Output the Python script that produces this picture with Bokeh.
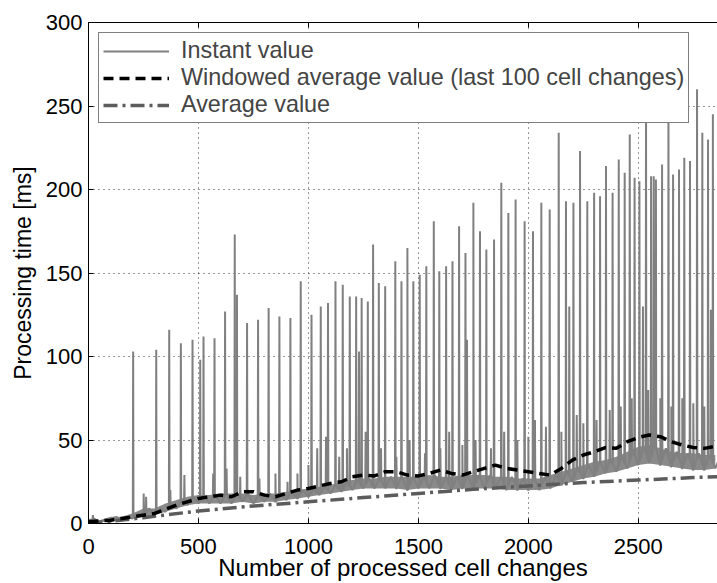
import numpy as np
from bokeh.plotting import figure
from bokeh.models import Range1d, FixedTicker, LinearAxis, Legend, LegendItem
from bokeh.embed import file_html
from bokeh.resources import INLINE

# ---------------- data ----------------
x_ticks = [0, 500, 1000, 1500, 2000, 2500]
y_ticks = [0, 50, 100, 150, 200, 250, 300]

# instant value: dense noisy band, low / high readings every 50 cell changes
band_step = 50
band_lo = [1, 1, 1, 2, 3, 4, 5, 7, 9, 11, 12, 12, 12, 12, 13, 12, 13, 13, 14, 15,
           16, 17, 18, 19, 20, 21, 21, 21, 21, 20, 21, 21, 21, 20, 21, 21, 21, 21, 20, 20,
           20, 20, 21, 23, 25, 27, 28, 30, 31, 33, 35, 36, 35, 34, 33, 32, 32, 33]
band_hi = [3, 2, 4, 4, 6, 9, 9, 12, 14, 16, 17, 17, 18, 18, 18, 17, 18, 18, 19, 20,
           21, 22, 23, 25, 26, 27, 27, 28, 28, 28, 28, 29, 28, 28, 29, 29, 29, 28, 28, 27,
           27, 27, 29, 31, 33, 35, 37, 38, 40, 43, 46, 47, 45, 43, 42, 42, 41, 41]

# instant value: tall spikes
spike_x = [203, 308, 367, 420, 473, 508, 523, 573, 621, 665, 675, 721, 771, 819, 868,
           918, 965, 1014, 1056, 1089, 1123, 1156, 1188, 1217, 1230, 1242, 1270, 1294,
           1320, 1349, 1395, 1423, 1450, 1477, 1506, 1536, 1570, 1595, 1626, 1655, 1685,
           1714, 1721, 1750, 1780, 1809, 1844, 1877, 1909, 1942, 1983, 2021, 2059, 2097,
           2138, 2171, 2186, 2205, 2235, 2268, 2299, 2326, 2353, 2383, 2411, 2438, 2461,
           2483, 2505, 2521, 2535, 2558, 2570, 2580, 2608, 2637, 2658, 2685, 2709, 2735,
           2767, 2791, 2817, 2830, 2839]
spike_y = [103, 104, 116, 108, 110, 98, 112, 111, 127, 173, 137, 120, 122, 129, 124,
           123, 145, 125, 130, 132, 145, 143, 136, 136, 103, 135, 133, 167,
           144, 142, 157, 145, 165, 145, 149, 154, 181, 151, 154, 157, 178,
           162, 110, 192, 175, 164, 170, 204, 186, 194, 181, 175, 192, 188,
           234, 193, 130, 192, 223, 193, 198, 196, 214, 198, 218, 210, 233,
           207, 205, 130, 255, 208, 208, 206, 215, 250, 209, 212, 219, 217,
           260, 234, 230, 128, 245]

# instant value: small secondary peaks
bump_x = [20, 120, 251, 262, 372, 436, 567, 628, 690, 777, 850, 905, 950, 1000, 1040,
          1080, 1140, 1175, 1260, 1330, 1400, 1460, 1530, 1600, 1640, 1700, 1760, 1830,
          1890, 1950, 2000, 2030, 2080, 2150, 2220, 2250, 2310, 2370, 2420, 2470, 2545,
          2600, 2650, 2700, 2750, 2800]
bump_y = [5, 4, 18, 16, 20, 29, 30, 33, 28, 27, 30, 25, 30, 35, 45,
          52, 40, 45, 55, 45, 40, 50, 42, 45, 55, 47, 50, 45,
          55, 50, 52, 62, 58, 55, 65, 60, 62, 68, 70, 75, 80,
          75, 70, 75, 72, 70]

# windowed average (last 100 cell changes)
win_x = [0, 100, 200, 300, 400, 500, 550, 600, 650, 700, 750, 800, 850, 900, 950,
         1000, 1050, 1100, 1150, 1200, 1250, 1300, 1350, 1400, 1450, 1500, 1550, 1600,
         1650, 1700, 1750, 1800, 1850, 1900, 1950, 2000, 2050, 2100, 2150, 2200, 2250,
         2300, 2350, 2400, 2450, 2500, 2550, 2600, 2650, 2700, 2750, 2800, 2860]
win_y = [1, 2, 4, 6, 11, 15, 16, 17, 16, 19, 19, 17, 16, 18, 20,
         21, 22.5, 24, 25, 28, 29, 28.5, 31, 31, 29, 28.5, 30, 32,
         30, 29, 31, 33, 35, 33, 32, 31, 30, 29, 33, 38, 41,
         43, 45.5, 45, 49, 51.5, 53, 52, 49, 47, 45.5, 45, 46.5]

# cumulative average value
avg_x = [0, 250, 500, 750, 1000, 1250, 1500, 1750, 2000, 2250, 2500, 2750, 2860]
avg_y = [0, 3.5, 7.5, 10.5, 13, 15.5, 18, 20.5, 22.5, 24.5, 26, 27.5, 28]

# ---------------- build instant series ----------------
band_x = np.arange(len(band_lo)) * band_step
zig_x, zig_y = [], []
for bx, lo, hi in zip(band_x.tolist(), band_lo, band_hi):
    zig_x += [bx, bx + band_step / 2]
    zig_y += [lo, hi]
pts = list(zip(zig_x, zig_y))
for sx, sy in zip(spike_x + bump_x, spike_y + bump_y):
    foot = float(np.interp(sx, zig_x, zig_y))
    pts += [(sx - 1.5, foot), (sx, sy), (sx + 1.5, foot)]
pts.sort(key=lambda t: t[0])
inst_x = [t[0] for t in pts]
inst_y = [t[1] for t in pts]

FONT = "Liberation Sans"
GRAY = "#808080"

p = figure(width=717, height=583, output_backend="svg", toolbar_location=None,
           x_range=Range1d(0, 2860), y_range=Range1d(0, 300),
           min_border_left=88, min_border_right=0, min_border_top=22, min_border_bottom=58)
p.outline_line_color = None
p.background_fill_color = "white"
p.border_fill_color = "white"

p.varea(x=band_x, y1=band_lo, y2=band_hi, fill_color="#8a8a8a", fill_alpha=1.0)
r_inst = p.line(inst_x, inst_y, line_color=GRAY, line_width=2)
r_avg = p.line(avg_x, avg_y, line_color="#5c5c5c", line_width=3.5, line_dash="14 5 3 5")
r_win = p.line(win_x, win_y, line_color="black", line_width=3.5, line_dash="10 6")

for ax in (p.xaxis[0], p.yaxis[0]):
    ax.major_tick_in = 5
    ax.major_tick_out = 0
    ax.minor_tick_line_color = None
    ax.axis_line_color = "black"
    ax.major_tick_line_color = "black"
    ax.major_label_text_font = FONT
    ax.major_label_text_font_size = "22px"
    ax.major_label_text_color = "black"
    ax.axis_label_text_font = FONT
    ax.axis_label_text_font_style = "normal"
    ax.axis_label_text_color = "black"

p.xaxis.ticker = FixedTicker(ticks=x_ticks)
p.yaxis.ticker = FixedTicker(ticks=y_ticks)
p.xaxis.axis_label = "Number of processed cell changes"
p.yaxis.axis_label = "Processing time [ms]"
p.xaxis.axis_label_text_font_size = "24px"
p.yaxis.axis_label_text_font_size = "23px"
p.xaxis.major_label_standoff = 15
p.xaxis.axis_label_standoff = -3
p.yaxis.major_label_standoff = 6
p.yaxis.axis_label_standoff = 7

top = LinearAxis(ticker=FixedTicker(ticks=x_ticks), major_label_text_font_size="0px",
                 major_tick_in=5, major_tick_out=0, minor_tick_line_color=None,
                 axis_line_color="black", major_label_standoff=0)
p.add_layout(top, "above")

p.grid.grid_line_color = "black"
p.grid.grid_line_alpha = 0.8
p.grid.grid_line_dash = "1 4"
p.grid.grid_line_width = 1

legend = Legend(items=[
    LegendItem(label="Instant value", renderers=[r_inst]),
    LegendItem(label="Windowed average value (last 100 cell changes)", renderers=[r_win]),
    LegendItem(label="Average value", renderers=[r_avg]),
], location="top_left", margin=10, padding=4, spacing=0, glyph_width=66, glyph_height=26,
    label_standoff=12, label_text_font=FONT, label_text_font_size="23.4px",
    border_line_color="black", border_line_width=1.2, background_fill_color="white",
    background_fill_alpha=1.0)
p.add_layout(legend)

open("out.html", "w").write(file_html(p, INLINE))
